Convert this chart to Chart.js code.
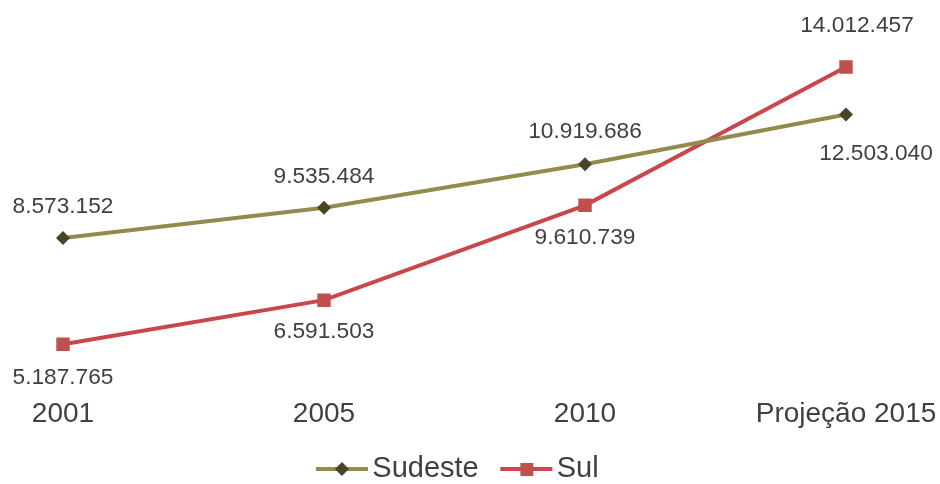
<!DOCTYPE html>
<html>
<head>
<meta charset="utf-8">
<script src="https://cdn.jsdelivr.net/npm/chart.js@4.4.1/dist/chart.umd.min.js"></script>
<style>
  html, body { margin: 0; padding: 0; background: #ffffff; }
  #wrap { width: 940px; height: 484px; }
</style>
</head>
<body>
<div id="wrap"><canvas id="chart" width="940" height="484"></canvas></div>
<script>
const categories = ["2001", "2005", "2010", "Projeção 2015"];
const sudesteValues = [8573152, 9535484, 10919686, 12503040];
const sulValues = [5187765, 6591503, 9610739, 14012457];

const FONT = "'Liberation Sans', Arial, sans-serif";
const TEXT_COLOR = "#404040";

// pt-BR style thousands separator
function fmt(v) {
    return String(v).replace(/\B(?=(\d{3})+(?!\d))/g, ".");
}

// small canvas with line + marker, used as legend symbol
function legendSymbol(lineColor, markerColor, shape) {
    const c = document.createElement("canvas");
    c.width = 64;
    c.height = 18;
    const g = c.getContext("2d");
    g.strokeStyle = lineColor;
    g.lineWidth = 4;
    g.beginPath();
    g.moveTo(11, 9);
    g.lineTo(63, 9);
    g.stroke();
    g.fillStyle = markerColor;
    g.beginPath();
    if (shape === "diamond") {
        g.moveTo(37, 2);
        g.lineTo(44, 9);
        g.lineTo(37, 16);
        g.lineTo(30, 9);
        g.closePath();
    } else {
        g.rect(31, 3, 13, 13);
    }
    g.fill();
    return c;
}

const valueLabels = {
    id: "valueLabels",
    afterDatasetsDraw(chart, args, opts) {
        const ctx = chart.ctx;
        ctx.save();
        ctx.font = "22.7px " + FONT;
        ctx.fillStyle = TEXT_COLOR;
        ctx.textAlign = "center";
        ctx.textBaseline = "middle";
        chart.data.datasets.forEach((ds, i) => {
            const meta = chart.getDatasetMeta(i);
            const offs = opts.offsets[i];
            meta.data.forEach((pt, j) => {
                const o = offs[j];
                ctx.fillText(fmt(ds.data[j]), pt.x + o[0], pt.y + o[1]);
            });
        });
        ctx.restore();
    },
};

const symbols = [
    legendSymbol("#938a4e", "#4a4326", "diamond"),
    legendSymbol("#c9474b", "#c0504d", "square"),
];

new Chart(document.getElementById("chart"), {
    type: "line",
    data: {
        labels: categories,
        datasets: [
            {
                label: "Sudeste",
                data: sudesteValues,
                borderColor: "#938a4e",
                borderWidth: 4,
                pointStyle: "rectRot",
                pointRadius: 7,
                pointBackgroundColor: "#4a4326",
                pointBorderColor: "#4a4326",
                pointBorderWidth: 0,
                tension: 0,
            },
            {
                label: "Sul",
                data: sulValues,
                borderColor: "#c9474b",
                borderWidth: 4,
                pointStyle: "rect",
                pointRadius: 9.5,
                pointBackgroundColor: "#c0504d",
                pointBorderColor: "#c0504d",
                pointBorderWidth: 0,
                tension: 0,
            },
        ],
    },
    options: {
        responsive: false,
        animation: false,
        layout: { padding: { top: 36, left: 0, right: 25.3, bottom: -9.5 } },
        plugins: {
            tooltip: { enabled: false },
            legend: {
                position: "bottom",
                labels: {
                    color: TEXT_COLOR,
                    font: { family: FONT, size: 29 },
                    usePointStyle: true,
                    pointStyleWidth: 41.8,
                    padding: 21.7,
                    generateLabels(chart) {
                        return chart.data.datasets.map((ds, i) => ({
                            text: ds.label,
                            pointStyle: symbols[i],
                            fontColor: TEXT_COLOR,
                            lineWidth: 0,
                            strokeStyle: "transparent",
                            fillStyle: "transparent",
                            datasetIndex: i,
                        }));
                    },
                },
            },
            valueLabels: {
                offsets: [
                    [[0, -31], [0, -31], [0, -32], [30, 39]],
                    [[0, 33], [0, 32], [0, 32], [11, -41]],
                ],
            },
        },
        scales: {
            x: {
                offset: false,
                grid: { display: false, drawTicks: false },
                border: { display: false },
                ticks: {
                    color: TEXT_COLOR,
                    font: { family: FONT, size: 28 },
                    padding: 15.6,
                    autoSkip: false,
                    maxRotation: 0,
                },
                afterFit(scale) {
                    // first and last category sit at x = 63 and x = 846
                    scale.paddingLeft = 63;
                    scale.paddingRight = 94;
                    scale.height = 51.2;
                },
            },
            y: {
                display: false,
                min: 4000000,
                max: 15000000,
            },
        },
    },
    plugins: [valueLabels],
});
</script>
</body>
</html>
